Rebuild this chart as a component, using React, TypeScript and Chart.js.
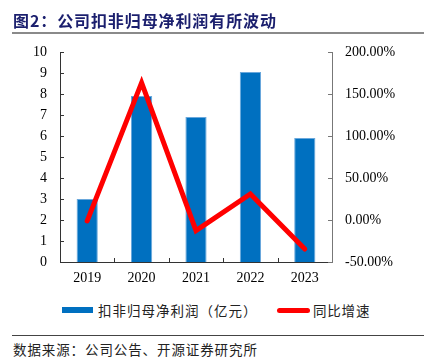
import React, { useEffect, useRef } from "react";
import { Chart, registerables } from "chart.js";

Chart.register(...registerables);

const categories = ["2019", "2020", "2021", "2022", "2023"];
const profitValues = [3.0, 7.9, 6.9, 9.05, 5.9];
const growthValues = [-1.0, 163.5, -12.7, 31.0, -34.5];
const leftTicks = [0, 10, 1];
const rightTicks = [-50, 200, 50];

const titleText = "图2：公司扣非归母净利润有所波动";
const barLabel = "扣非归母净利润（亿元）";
const lineLabel = "同比增速";
const sourceText = "数据来源：公司公告、开源证券研究所";

const serif = "'Liberation Serif', 'Times New Roman', serif";
const cjk = "'Noto Sans CJK SC', sans-serif";

const innerTicks = {
  id: "innerTicks",
  afterDatasetsDraw(chart: any) {
    const { ctx, chartArea } = chart;
    const y = chart.scales.y;
    const y1 = chart.scales.y1;
    const x = chart.scales.x;
    ctx.save();
    ctx.lineWidth = 1;
    ctx.strokeStyle = "#333";
    y.ticks.forEach((t: any) => {
      const p = Math.round(y.getPixelForValue(t.value)) + 0.5;
      ctx.beginPath();
      ctx.moveTo(chartArea.left, p);
      ctx.lineTo(chartArea.left + 4, p);
      ctx.stroke();
    });
    ctx.strokeStyle = "#777";
    y1.ticks.forEach((t: any) => {
      const p = Math.round(y1.getPixelForValue(t.value)) + 0.5;
      ctx.beginPath();
      ctx.moveTo(chartArea.right - 4, p);
      ctx.lineTo(chartArea.right, p);
      ctx.stroke();
    });
    ctx.strokeStyle = "#333";
    for (let i = 0; i < categories.length - 1; i++) {
      const p = Math.round((x.getPixelForValue(i) + x.getPixelForValue(i + 1)) / 2) + 0.5;
      ctx.beginPath();
      ctx.moveTo(p, chartArea.bottom);
      ctx.lineTo(p, chartArea.bottom - 4);
      ctx.stroke();
    }
    ctx.restore();
  },
};

function ChartView() {
  const ref = useRef<HTMLCanvasElement | null>(null);
  useEffect(() => {
    if (!ref.current) return;
    const chart = new Chart(ref.current, {
      type: "bar",
      data: {
        labels: categories,
        datasets: [
          {
            type: "line",
            label: lineLabel,
            data: growthValues,
            yAxisID: "y1",
            borderColor: "#FF0000",
            backgroundColor: "#FF0000",
            borderWidth: 5,
            pointRadius: 0,
            tension: 0,
            borderCapStyle: "round",
            borderJoinStyle: "miter",
            order: 0,
          } as any,
          {
            type: "bar",
            label: barLabel,
            data: profitValues,
            yAxisID: "y",
            backgroundColor: "#0070C0",
            borderColor: "#6AA8DC",
            borderWidth: 1,
            categoryPercentage: 1,
            barPercentage: 0.39,
            order: 1,
          } as any,
        ],
      },
      options: {
        animation: false,
        responsive: false,
        maintainAspectRatio: false,
        layout: { padding: { top: 52, bottom: 0, left: 0, right: 0 } },
        plugins: { legend: { display: false }, tooltip: { enabled: false }, title: { display: false } },
        scales: {
          x: {
            grid: { display: false, drawTicks: false },
            border: { display: true, color: "#333", width: 1 },
            ticks: { color: "#000", font: { family: serif, size: 14 }, padding: 8 },
            afterFit: (s: any) => { s.height = 38; },
          },
          y: {
            position: "left",
            min: leftTicks[0],
            max: leftTicks[1],
            grid: { display: false, drawTicks: false },
            border: { display: true, color: "#333", width: 1 },
            ticks: { stepSize: leftTicks[2], color: "#000", font: { family: serif, size: 14 }, padding: 13 },
            afterFit: (s: any) => { s.width = 60; },
          },
          y1: {
            position: "right",
            min: rightTicks[0],
            max: rightTicks[1],
            grid: { display: false, drawTicks: false },
            border: { display: true, color: "#777", width: 1 },
            ticks: {
              stepSize: rightTicks[2],
              color: "#000",
              font: { family: serif, size: 14 },
              padding: 13,
              callback: (v: any) => Number(v).toFixed(2) + "%",
            },
            afterFit: (s: any) => { s.width = 100; },
          },
        },
      },
      plugins: [innerTicks],
    });
    return () => chart.destroy();
  }, []);
  return <canvas ref={ref} width={432} height={300} style={{ position: "absolute", left: 0, top: 0, width: 432, height: 300 }} />;
}

export default function App() {
  return (
    <div style={{ position: "fixed", left: 0, top: 0, width: 432, height: 363, background: "#fff", overflow: "hidden" }}>
      <ChartView />
      <div style={{ position: "absolute", left: 13, top: 9, fontFamily: cjk, fontWeight: 700, fontSize: 16, lineHeight: "22px", color: "#1B1F6E", whiteSpace: "nowrap", letterSpacing: 0.9 }}>
        {titleText}
      </div>
      <div style={{ position: "absolute", left: 12, top: 32, width: 412, height: 2, background: "#8a8a8a" }} />
      <div style={{ position: "absolute", left: 62, top: 307, width: 31, height: 6, background: "#0070C0" }} />
      <div style={{ position: "absolute", left: 98, top: 300, fontFamily: cjk, fontSize: 13.5, lineHeight: "20px", color: "#222", whiteSpace: "nowrap", letterSpacing: 1 }}>
        {barLabel}
      </div>
      <div style={{ position: "absolute", left: 277, top: 308, width: 33, height: 5, borderRadius: 3, background: "#FF0000" }} />
      <div style={{ position: "absolute", left: 313, top: 300, fontFamily: cjk, fontSize: 13.5, lineHeight: "20px", color: "#222", whiteSpace: "nowrap", letterSpacing: 0.8 }}>
        {lineLabel}
      </div>
      <div style={{ position: "absolute", left: 12, top: 335, width: 412, height: 1, background: "#444" }} />
      <div style={{ position: "absolute", left: 13, top: 339, fontFamily: cjk, fontSize: 13.5, lineHeight: "20px", color: "#222", whiteSpace: "nowrap", letterSpacing: 0.9 }}>
        {sourceText}
      </div>
    </div>
  );
}
